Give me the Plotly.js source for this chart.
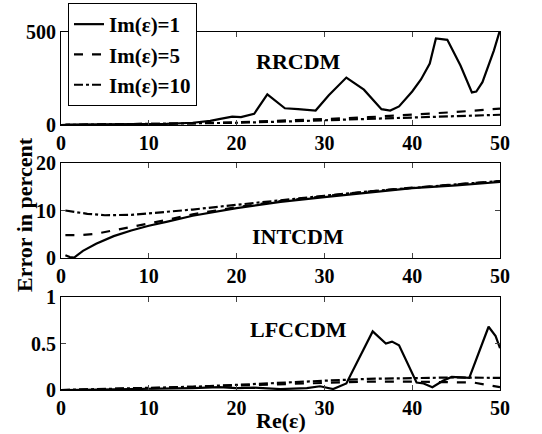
<!DOCTYPE html>
<html><head><meta charset="utf-8">
<script src="https://cdn.plot.ly/plotly-3.0.1.min.js"></script>
<style>body{margin:0;background:#fff}#g{width:542px;height:434px}</style>
</head><body><div id="g"></div>
<script>
// RRCDM panel
const rrX1 = [0.5,3,6,9,12,15,17,18,19.5,20.5,22,23.5,25.5,27,29,30.5,32.5,34.5,36.5,37.5,38.5,40,41,42,42.7,44,45.5,46.8,47.3,48,49.3,50];
const rrY1 = [2,2,3,4,6,12,22,32,45,42,60,165,90,85,78,160,255,190,85,78,100,180,245,330,465,458,320,175,180,230,400,510];
const rrX5 = [0,5,10,15,20,25,30,35,40,45,50];
const rrY5 = [0,2,5,9,15,22,32,42,55,70,88];
const rrX10 = [0,5,10,15,20,25,30,35,40,45,50];
const rrY10 = [0,2,4,7,12,18,26,33,40,48,55];
// INTCDM panel
const inX1 = [0.5,1,1.5,2.5,4,6,8,10,12,15,20,25,30,35,40,45,50];
const inY1 = [0.6,0.2,0.1,1.5,3,4.6,5.8,6.8,7.6,8.9,10.5,11.8,12.8,13.8,14.7,15.3,16];
const inX5 = [0.5,2,4,6,8,10,12,15,20,25,30,35,40,45,50];
const inY5 = [4.8,4.8,5.1,5.8,6.6,7.3,8.0,9.2,10.7,12.0,13.0,14.0,14.8,15.5,16.2];
const inX10 = [0.5,2,3,5,8,10,12,15,20,25,30,35,40,45,50];
const inY10 = [10,9.6,9.3,9.0,9.1,9.4,9.7,10.2,11.2,12.2,13.1,14.0,14.8,15.5,16.2];
// LFCCDM panel
const lfX1 = [0.5,5,10,15,18,20,22,25,28,29.5,31,32.5,35.5,37,37.7,38.5,40.5,41.3,42.3,43.5,44.5,46.5,48.7,49.5,50];
const lfY1 = [0,0.005,0.01,0.02,0.03,0.02,0.025,0.01,0.02,0.04,0.01,0.07,0.63,0.5,0.52,0.48,0.08,0.07,0.03,0.1,0.14,0.13,0.68,0.58,0.45];
const lfX5 = [0,5,10,15,20,25,30,35,40,45,47,50];
const lfY5 = [0,0.008,0.02,0.035,0.05,0.065,0.08,0.09,0.09,0.08,0.08,0.03];
const lfX10 = [0,5,10,15,20,25,30,35,40,45,50];
const lfY10 = [0,0.01,0.02,0.035,0.055,0.08,0.1,0.12,0.13,0.135,0.13];

const names = ['Im(\u03b5)=1','Im(\u03b5)=5','Im(\u03b5)=10'];
const dashes = ['solid','dash','dashdot'];
const lw = 2.2;
function tr(x,y,i,ax,show){
  return {x:x,y:y,type:'scatter',mode:'lines',name:names[i],showlegend:show,
    xaxis:'x'+ax, yaxis:'y'+ax, line:{color:'black',width:lw,dash:dashes[i]}};
}
const data = [
  tr(rrX1,rrY1,0,'',true), tr(rrX5,rrY5,1,'',true), tr(rrX10,rrY10,2,'',true),
  tr(inX1,inY1,0,'2',false), tr(inX5,inY5,1,'2',false), tr(inX10,inY10,2,'2',false),
  tr(lfX1,lfY1,0,'3',false), tr(lfX5,lfY5,1,'3',false), tr(lfX10,lfY10,2,'3',false)
];

const W=542,H=434;
const FF='Liberation Serif, Times New Roman, serif';
const xd=[61/W,500/W];
function xa(anchor){return {domain:xd,range:[0,50],tickvals:[0,10,20,30,40,50],ticks:'inside',ticklen:5,
  showline:true,mirror:'ticks',linecolor:'black',linewidth:1,showgrid:false,zeroline:false,anchor:anchor,
  tickfont:{family:FF,size:20,weight:'bold',color:'black'}};}
function ya(dom,range,tv,tt,anchor){return {domain:dom,range:range,tickvals:tv,ticktext:tt,ticks:'inside',ticklen:5,
  showline:true,mirror:'ticks',linecolor:'black',linewidth:1,showgrid:false,zeroline:false,anchor:anchor,
  tickfont:{family:FF,size:20,weight:'bold',color:'black'}};}
const af={family:FF,size:22,weight:'bold',color:'black'};
const layout = {
  width:W,height:H,margin:{l:0,r:0,t:0,b:0},paper_bgcolor:'white',plot_bgcolor:'white',
  font:{family:FF,size:20,weight:'bold',color:'black'},
  xaxis:xa('y'), yaxis:ya([1-125/H,1-32/H],[0,500],[0,500],['0','500'],'x'),
  xaxis2:xa('y2'), yaxis2:ya([1-258/H,1-163/H],[0,20],[0,10,20],['0','10','20'],'x2'),
  xaxis3:xa('y3'), yaxis3:ya([1-390/H,1-297/H],[0,1],[0,0.5,1],['0','0.5','1'],'x3'),
  showlegend:true,
  legend:{x:68/W,y:1-3/H,xanchor:'left',yanchor:'top',bgcolor:'white',bordercolor:'black',borderwidth:1,
    font:{family:FF,size:21,weight:'bold',color:'black'}},
  annotations:[
    {text:'RRCDM',xref:'x',yref:'y',x:27,y:340,showarrow:false,font:af},
    {text:'INTCDM',xref:'x2',yref:'y2',x:27,y:4.6,showarrow:false,font:af},
    {text:'LFCCDM',xref:'x3',yref:'y3',x:27,y:0.65,showarrow:false,font:af},
    {text:'Error in percent',xref:'paper',yref:'paper',x:24/W,y:1-215/H,xanchor:'center',yanchor:'middle',textangle:-90,showarrow:false,font:af},
    {text:'Re(\u03b5)',xref:'paper',yref:'paper',x:281/W,y:1-420/H,xanchor:'center',yanchor:'middle',showarrow:false,font:af}
  ]
};
Plotly.newPlot('g',data,layout,{staticPlot:true});
</script></body></html>
